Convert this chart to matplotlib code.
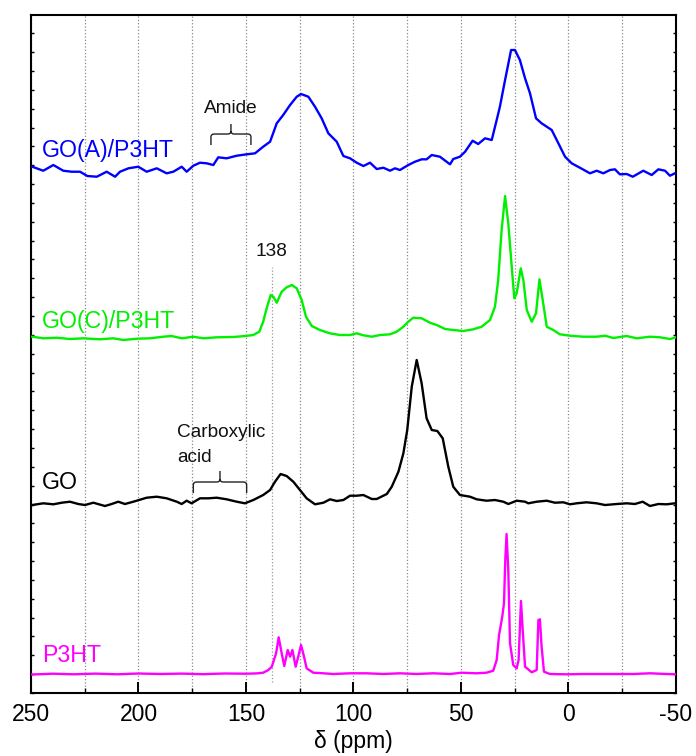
import matplotlib
matplotlib.use("Agg")
import matplotlib.pyplot as plt
from matplotlib.path import Path
from matplotlib.patches import PathPatch
from matplotlib.ticker import MultipleLocator, FixedLocator

plt.rcParams['font.family'] = ['Liberation Sans', 'DejaVu Sans']

# ---------------- data (chemical shift in ppm, intensity in a.u. relative to baseline) -------------
goa_ppm = [249.4, 244.3, 239.6, 235.0, 231.1, 227.2, 223.8, 219.4, 214.8, 210.9, 208.6, 204.7, 200.1,
           196.2, 191.5, 186.9, 183.8, 179.9, 177.6, 174.5, 171.4, 168.3, 165.2, 162.9, 159.0, 154.3,
           149.7, 145.8, 142.0, 138.8, 135.7, 132.7, 129.5, 126.4, 124.4, 121.0, 117.9, 114.8, 111.7,
           107.8, 104.7, 101.6, 98.5, 95.4, 92.3, 89.2, 86.1, 83.0, 80.7, 78.4, 74.5, 71.4, 68.3, 66.0,
           63.6, 59.8, 55.1, 53.6, 50.5, 48.1, 44.6, 42.0, 38.8, 35.7, 33.4, 31.9, 29.5, 26.7, 24.9,
           22.6, 20.2, 17.9, 15.1, 12.5, 10.1, 7.8, 4.7, 1.6, -1.5, -5.3, -10.0, -13.1, -16.2, -19.3,
           -21.6, -23.9, -27.1, -29.9, -34.8, -38.7, -41.8, -44.9, -47.2, -49.5]
goa_int = [3.3, -0.7, 5.0, -0.7, -1.7, -1.7, -6.0, -6.7, -1.7, -6.7, -1.7, 1.7, 3.3,
           -1.7, 1.7, -3.3, -1.7, 3.3, -1.7, 4.3, 7.3, 6.7, 5.0, 12.7, 11.7, 14.3,
           15.7, 16.7, 23.3, 28.3, 46.7, 55.0, 65.0, 73.3, 76.0, 73.3, 63.3, 51.7, 36.7,
           28.3, 14.0, 11.7, 7.3, 4.0, 7.3, 1.0, 2.3, -0.7, 1.7, 0.0, 5.0, 8.3, 10.7, 10.7,
           15.0, 13.3, 5.7, 11.0, 13.3, 18.3, 29.3, 26.0, 31.7, 30.0, 50.0, 63.3, 90.0, 120.0, 120.0,
           110.0, 91.7, 76.7, 51.7, 46.7, 43.3, 40.0, 26.7, 13.3, 6.7, 2.3, -3.3, -0.7, -3.3, 0.0,
           0.7, -4.3, -4.0, -6.7, -0.7, -5.0, 0.7, -0.7, -5.7, -3.3]

goc_ppm = [249.4, 244.3, 238.0, 231.9, 225.7, 217.9, 211.7, 207.1, 200.8, 194.7, 188.5, 184.6, 179.9,
           174.5, 169.9, 163.6, 155.9, 150.5, 146.6, 143.8, 142.0, 140.4, 138.5, 137.3, 135.7, 133.4,
           131.1, 128.7, 126.4, 124.1, 122.1, 119.4, 115.6, 111.0, 106.3, 101.6, 98.5, 95.4, 91.5,
           87.7, 83.0, 79.9, 76.8, 74.5, 72.2, 68.3, 64.4, 61.3, 57.4, 53.6, 48.9, 44.3, 40.4, 36.5,
           34.2, 32.7, 31.1, 29.5, 28.0, 26.4, 25.2, 24.1, 22.2, 21.0, 19.4, 17.1, 15.1, 13.5, 12.0,
           10.1, 7.1, 4.0, -0.7, -6.9, -13.1, -17.0, -20.8, -27.1, -31.7, -37.9, -42.6, -47.2, -50.0]
goc_int = [0.3, -1.3, -0.7, -2.0, -1.3, -2.3, -1.3, -3.0, -1.7, -1.3, 0.3, 1.0, -1.3,
           0.3, -1.3, -0.3, 0.0, 1.0, 2.0, 5.3, 15.3, 28.7, 42.0, 40.3, 34.3, 45.3,
           49.7, 52.0, 48.7, 37.0, 20.3, 11.0, 7.0, 3.7, 2.0, 2.0, 3.7, 1.7, 0.3,
           2.0, 2.7, 5.3, 10.3, 15.3, 19.3, 18.7, 14.3, 12.0, 8.0, 7.0, 6.0, 7.7, 10.3, 17.0,
           30.3, 57.0, 107.0, 141.0, 113.7, 70.3, 38.7, 43.7, 68.7, 57.0, 27.0, 15.3, 23.7, 57.7, 37.0,
           10.3, 7.0, 2.7, 1.3, 0.3, 0.3, 1.3, -1.0, 1.0, -1.3, 0.3, -0.3, -2.0, -0.3]

go_ppm = [249.4, 244.3, 239.6, 235.7, 231.9, 228.0, 224.9, 221.0, 215.6, 212.5, 209.4, 206.3, 202.4,
          196.2, 191.5, 186.9, 182.2, 179.9, 177.6, 175.3, 171.4, 167.5, 163.6, 159.0, 154.3, 150.5,
          146.6, 142.0, 138.8, 136.5, 133.9, 131.1, 128.0, 124.9, 121.8, 117.9, 114.0, 110.9, 107.8,
          104.7, 101.6, 98.5, 95.4, 91.5, 89.2, 86.1, 84.5, 82.2, 79.1, 76.8, 75.0, 72.9, 70.6, 68.3,
          66.0, 63.6, 61.0, 58.5, 55.9, 53.6, 50.5, 45.8, 42.7, 38.1, 34.2, 30.3, 28.0, 24.1, 20.2,
          18.7, 14.8, 10.1, 6.3, 2.4, -0.7, -3.8, -8.4, -13.1, -17.0, -22.4, -27.1, -30.9, -34.5,
          -37.9, -41.8, -45.7, -49.5]
go_int = [-2.0, -0.3, -1.3, 0.3, 1.3, -1.0, -2.0, 0.3, -3.0, -1.0, 1.3, -1.0, 1.3,
          5.3, 6.3, 4.7, 1.3, -1.0, 2.3, -0.3, 4.7, 4.7, 5.3, 3.7, 1.3, -0.3,
          3.0, 8.0, 13.0, 21.3, 29.0, 27.0, 21.3, 13.0, 4.7, -1.3, 0.3, 3.7, 2.0,
          3.0, 7.3, 7.3, 8.0, 4.0, 4.0, 7.3, 9.0, 16.3, 31.3, 49.7, 73.0, 116.3, 143.0, 119.7,
          84.7, 73.0, 72.0, 64.7, 36.3, 16.3, 8.0, 6.3, 3.7, 2.3, 3.0, 1.3, -1.0, 2.3, 1.3,
          -0.3, 1.3, 2.3, 0.3, 0.7, -1.3, -0.3, 0.7, -0.3, -2.0, -1.0, -0.3, -1.0, 1.3,
          -3.0, -1.0, -1.3, -0.3]

p3ht_ppm = [249.4, 240.0, 230.0, 220.0, 210.0, 200.0, 190.0, 180.0, 170.0, 160.0, 150.0, 145.0,
            142.0, 139.6, 138.0, 136.0, 134.8, 133.4, 132.2, 130.6, 129.5, 128.4, 126.9, 125.7, 124.4,
            123.0, 121.8, 118.7, 114.0, 109.4, 101.6, 93.9, 86.1, 78.4, 70.6, 62.9, 55.1, 49.7, 42.7,
            38.1, 35.0, 33.4, 32.3, 30.8, 30.0, 29.4, 28.8, 28.0, 27.2, 25.7, 24.1, 23.2, 22.1, 21.3,
            20.2, 17.1, 14.8, 14.0, 13.3, 12.5, 11.4, 8.6, 0.8, -6.9, -14.7, -22.4, -30.1, -37.9,
            -45.7, -50.0]
p3ht_int = [-0.5, 0.3, -0.3, 0.4, -0.3, 0.5, 0.0, 0.4, -0.2, 0.5, 0.3, 0.6,
            1.3, 4.0, 7.3, 20.7, 36.7, 20.7, 8.0, 24.0, 17.3, 24.0, 7.3, 17.3, 29.0,
            17.3, 5.7, 1.3, 0.7, 0.0, 0.7, 0.7, 0.0, 0.7, 0.0, 0.7, 0.0, 1.3, 0.7,
            1.3, 3.3, 14.0, 39.0, 57.3, 70.7, 114.0, 140.0, 104.0, 30.7, 9.0, 5.7, 14.0, 73.0, 44.0,
            7.3, 1.7, 4.0, 54.0, 54.7, 27.3, 2.3, 0.0, -0.3, 0.0, 0.0, 0.0, 0.0, 0.7,
            0.0, -0.3]

labels = ["GO(A)/P3HT", "GO(C)/P3HT", "GO", "P3HT"]
colors = ["#0000ff", "#00f000", "#000000", "#ff00ff"]
offsets = [523, 356, 190, 19]
series = [(goa_ppm, goa_int), (goc_ppm, goc_int), (go_ppm, go_int), (p3ht_ppm, p3ht_int)]
label_y = [536, 365, 204, 31]

xticks = [250, 200, 150, 100, 50, 0, -50]
xtick_labels = ["250", "200", "150", "100", "50", "0", "-50"]

# annotation ranges (ppm)
amide_range = (166.3, 147.7)
carboxylic_range = (174.5, 149.7)
marker_ppm = 138

# ---------------- figure ----------------
fig = plt.figure(figsize=(6.96, 7.56), dpi=100)
ax = fig.add_axes([0.04454, 0.08333, 0.9267, 0.8968])

for (x, y), off, c in zip(series, offsets, colors):
    ax.plot(x, [v + off for v in y], color=c, lw=1.7, zorder=3, solid_joinstyle='round')

for lab, c, ly in zip(labels, colors, label_y):
    ax.text(244.9, ly, lab, color=c, fontsize=16.7, ha='left', va='baseline', zorder=4)

ax.set_xlim(250, -50)
ax.set_ylim(0, 678)

ax.xaxis.set_major_locator(FixedLocator(xticks))
ax.set_xticklabels(xtick_labels)
ax.xaxis.set_minor_locator(MultipleLocator(25))
ax.yaxis.set_major_locator(MultipleLocator(18.85))
ax.yaxis.set_minor_locator(plt.NullLocator())
ax.tick_params(axis='x', which='major', direction='in', length=8, width=1.4, labelsize=16.5, pad=7.5,
               top=False)
ax.tick_params(axis='x', which='minor', direction='in', length=3.5, width=1.0, top=False)
ax.tick_params(axis='y', which='major', direction='in', length=2.5, width=1.0,
               left=True, right=True, labelleft=False)
for s in ax.spines.values():
    s.set_linewidth(1.5)

ax.grid(axis='x', which='both', linestyle=':', color='#888888', linewidth=0.9, zorder=1)
ax.vlines(marker_ppm, 11, 426, linestyles=':', colors='#999999', linewidth=0.9, zorder=1)

ax.set_xlabel("\u03b4 (ppm)", fontsize=16.5, labelpad=2.5)


def brace(ax, x0, x1, yl, yt, yp, rx=1.5, ry=3.0):
    xc = (x0 + x1) / 2
    verts = [(x0, yl), (x0, yt - ry), (x0, yt), (x0 - rx, yt), (xc + rx, yt),
             (xc, yt), (xc, yt + ry), (xc, yp),
             (xc, yt + ry), (xc, yt), (xc - rx, yt), (x1 + rx, yt),
             (x1, yt), (x1, yt - ry), (x1, yl)]
    codes = [Path.MOVETO, Path.LINETO, Path.CURVE3, Path.CURVE3, Path.LINETO,
             Path.CURVE3, Path.CURVE3, Path.LINETO,
             Path.MOVETO, Path.CURVE3, Path.CURVE3, Path.LINETO,
             Path.CURVE3, Path.CURVE3, Path.LINETO]
    ax.add_patch(PathPatch(Path(verts, codes), fill=False, edgecolor='#222222', lw=1.0, zorder=4))


brace(ax, amide_range[0], amide_range[1], 548, 559, 569)
brace(ax, carboxylic_range[0], carboxylic_range[1], 200, 211, 222)

ax.text(157.0, 580, "Amide", fontsize=13.7, ha='center', va='baseline', color='#111111')
ax.text(138.3, 437, "138", fontsize=13.7, ha='center', va='baseline', color='#111111')
ax.text(182.1, 256, "Carboxylic", fontsize=13.7, ha='left', va='baseline', color='#111111')
ax.text(182.1, 231.5, "acid", fontsize=13.7, ha='left', va='baseline', color='#111111')

fig.savefig("out.png", dpi=100)
